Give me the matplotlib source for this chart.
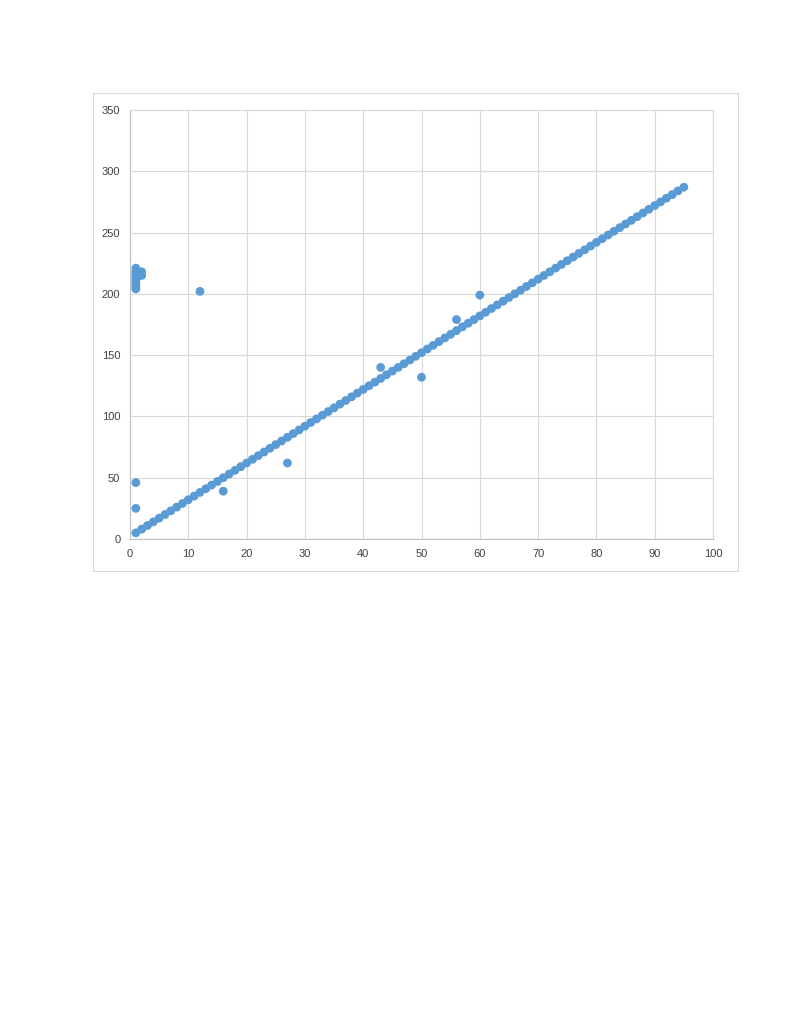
import matplotlib.pyplot as plt
from matplotlib.patches import Rectangle

# main series, one point per x
line_x = list(range(1, 96))
line_y = [5, 8, 11, 14, 17, 20, 23, 26, 29, 32,
          35, 38, 41, 44, 47, 50, 53, 56, 59, 62,
          65, 68, 71, 74, 77, 80, 83, 86, 89, 92,
          95, 98, 101, 104, 107, 110, 113, 116, 119, 122,
          125, 128, 131, 134, 137, 140, 143, 146, 149, 152,
          155, 158, 161, 164, 167, 170, 173, 176, 179, 182,
          185, 188, 191, 194, 197, 200, 203, 206, 209, 212,
          215, 218, 221, 224, 227, 230, 233, 236, 239, 242,
          245, 248, 251, 254, 257, 260, 263, 266, 269, 272,
          275, 278, 281, 284, 287]

# outliers
out_x = [1, 1, 1, 1, 1, 1, 1, 1, 1, 2, 2, 12, 1, 1, 16, 27, 43, 50, 56, 60]
out_y = [221, 218, 216, 214, 212, 210, 208, 206, 204, 218, 215, 202,
         46, 25, 39, 62, 140, 132, 179, 199]

color = '#5b9bd5'
grid = '#d9d9d9'
label_col = '#404040'

fig = plt.figure(figsize=(7.91, 10.24), dpi=100)
fig.patches.append(Rectangle((93 / 791, 1 - 571 / 1024), 645 / 791, 478 / 1024,
                             transform=fig.transFigure, fill=False,
                             edgecolor=grid, linewidth=0.8))

ax = fig.add_axes([130 / 791, 1 - 539 / 1024, 583 / 791, 429 / 1024])
ax.scatter(line_x + out_x, line_y + out_y, s=40, color=color, edgecolors='none', zorder=3)

ax.set_xlim(0, 100)
ax.set_ylim(0, 350)
ax.set_xticks(range(0, 101, 10))
ax.set_yticks(range(0, 351, 50))
ax.grid(True, color=grid, linewidth=0.8)
ax.set_axisbelow(True)
for side in ['top', 'right']:
    ax.spines[side].set_color(grid)
    ax.spines[side].set_linewidth(0.8)
for side in ['left', 'bottom']:
    ax.spines[side].set_color('#bfbfbf')
    ax.spines[side].set_linewidth(0.8)
ax.tick_params(length=0, labelsize=8, labelcolor=label_col, pad=7)
for lab in ax.get_xticklabels() + ax.get_yticklabels():
    lab.set_family('Liberation Sans')

fig.savefig('out.png', dpi=100)
